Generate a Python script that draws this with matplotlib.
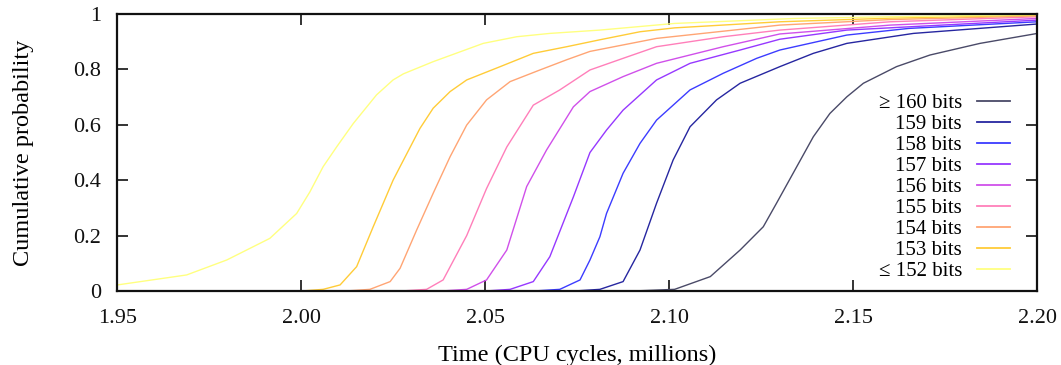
import matplotlib
matplotlib.use("Agg")
import matplotlib.pyplot as plt

plt.rcParams['font.family'] = ['Liberation Serif', 'DejaVu Serif']

labels = ["\u2265 160 bits", "159 bits", "158 bits", "157 bits", "156 bits",
          "155 bits", "154 bits", "153 bits", "\u2264 152 bits"]
colors = ["#4a4a68", "#2626a0", "#3c3cff", "#9638ff", "#d050ea",
          "#ff7fba", "#ffa574", "#ffcc38", "#ffff80"]

x160 = [2.090, 2.1014, 2.1111, 2.1192, 2.1255, 2.1291, 2.1346, 2.1391, 2.1436, 2.1482, 2.1527, 2.1617, 2.1708, 2.1844, 2.200]
y160 = [0.0, 0.006, 0.052, 0.148, 0.232, 0.317, 0.449, 0.557, 0.641, 0.701, 0.750, 0.810, 0.852, 0.894, 0.930]

x159 = [2.074, 2.0811, 2.0874, 2.0920, 2.0965, 2.1010, 2.1056, 2.1128, 2.1192, 2.1300, 2.1391, 2.1482, 2.1663, 2.200]
y159 = [0.0, 0.006, 0.034, 0.148, 0.317, 0.473, 0.593, 0.690, 0.750, 0.810, 0.858, 0.894, 0.930, 0.964]

x158 = [2.063, 2.0702, 2.0757, 2.0784, 2.0811, 2.0829, 2.0874, 2.0920, 2.0965, 2.1056, 2.1146, 2.1237, 2.1300, 2.1482, 2.1650, 2.200]
y158 = [0.0, 0.006, 0.040, 0.112, 0.196, 0.280, 0.425, 0.533, 0.617, 0.726, 0.786, 0.840, 0.870, 0.924, 0.948, 0.972]

x157 = [2.050, 2.0567, 2.0630, 2.0675, 2.0739, 2.0784, 2.0829, 2.0874, 2.0965, 2.1056, 2.1192, 2.1300, 2.1482, 2.200]
y157 = [0.0, 0.006, 0.034, 0.124, 0.340, 0.500, 0.581, 0.653, 0.762, 0.822, 0.870, 0.909, 0.942, 0.978]

x156 = [2.038, 2.0449, 2.0503, 2.0558, 2.0612, 2.0666, 2.0739, 2.0784, 2.0874, 2.0965, 2.1146, 2.1300, 2.1600, 2.200]
y156 = [0.0, 0.006, 0.040, 0.148, 0.377, 0.509, 0.665, 0.720, 0.774, 0.822, 0.882, 0.928, 0.960, 0.984]

x155 = [2.027, 2.0340, 2.0385, 2.0449, 2.0503, 2.0558, 2.0630, 2.0702, 2.0784, 2.0874, 2.0965, 2.1146, 2.1300, 2.1600, 2.200]
y155 = [0.0, 0.006, 0.040, 0.200, 0.370, 0.520, 0.671, 0.726, 0.798, 0.840, 0.882, 0.918, 0.942, 0.972, 0.990]

x154 = [2.012, 2.0186, 2.0241, 2.0268, 2.0313, 2.0358, 2.0404, 2.0449, 2.0503, 2.0567, 2.0648, 2.0721, 2.0784, 2.0965, 2.1300, 2.1600, 2.200]
y154 = [0.0, 0.006, 0.034, 0.082, 0.220, 0.353, 0.485, 0.599, 0.690, 0.756, 0.798, 0.835, 0.865, 0.912, 0.960, 0.980, 0.993]

x153 = [2.000, 2.0059, 2.0105, 2.0150, 2.0195, 2.0249, 2.0268, 2.0322, 2.0358, 2.0404, 2.0449, 2.0540, 2.0630, 2.0721, 2.0811, 2.0920, 2.1014, 2.1300, 2.1600, 2.200]
y153 = [0.0, 0.006, 0.022, 0.088, 0.232, 0.400, 0.449, 0.587, 0.660, 0.720, 0.762, 0.810, 0.858, 0.882, 0.907, 0.936, 0.950, 0.972, 0.985, 0.996]

x152 = [1.950, 1.9688, 1.9797, 1.9914, 1.9987, 2.0023, 2.0059, 2.0096, 2.0141, 2.0204, 2.0249, 2.0277, 2.0358, 2.0494, 2.0585, 2.0675, 2.0811, 2.1014, 2.1341, 2.1600, 2.200]
y152 = [0.022, 0.058, 0.112, 0.190, 0.280, 0.358, 0.449, 0.521, 0.605, 0.708, 0.762, 0.784, 0.828, 0.894, 0.918, 0.930, 0.942, 0.966, 0.984, 0.990, 0.998]

series_x = [x160, x159, x158, x157, x156, x155, x154, x153, x152]
series_y = [y160, y159, y158, y157, y156, y155, y154, y153, y152]

xticks = [1.95, 2.00, 2.05, 2.10, 2.15, 2.20]
xticklabels = ["1.95", "2.00", "2.05", "2.10", "2.15", "2.20"]
yticks = [0, 0.2, 0.4, 0.6, 0.8, 1]
yticklabels = ["0", "0.2", "0.4", "0.6", "0.8", "1"]

fig = plt.figure(figsize=(10.61, 3.65), dpi=100)
ax = fig.add_axes([0.1107, 0.2027, 0.8671, 0.7589])

for xs, ys, c, lab in zip(series_x, series_y, colors, labels):
    ax.plot(xs, ys, color=c, lw=1.0, label=lab)

ax.set_xlim(1.95, 2.20)
ax.set_ylim(0, 1)
ax.set_xticks(xticks)
ax.set_xticklabels(xticklabels)
ax.set_yticks(yticks)
ax.set_yticklabels(yticklabels)
ax.tick_params(direction='in', length=8, width=1.2, top=True, right=True,
               labelsize=16, colors='#111111')
ax.tick_params(axis='y', pad=12)
ax.tick_params(axis='x', pad=13)
for s in ax.spines.values():
    s.set_linewidth(1.6)
    s.set_color('#111111')

ax.set_xlabel("Time (CPU cycles, millions)", fontsize=17.5, labelpad=12)
ax.set_ylabel("Cumulative probability", fontsize=17.5, labelpad=28)

leg = ax.legend(loc='center right', bbox_to_anchor=(0.970, 0.374), frameon=False,
                markerfirst=False, fontsize=15, handlelength=1.6, handletextpad=0.7,
                labelspacing=0.07, borderpad=0, borderaxespad=0)
for line in leg.get_lines():
    line.set_linewidth(1.3)

fig.savefig("out.png", dpi=100)
